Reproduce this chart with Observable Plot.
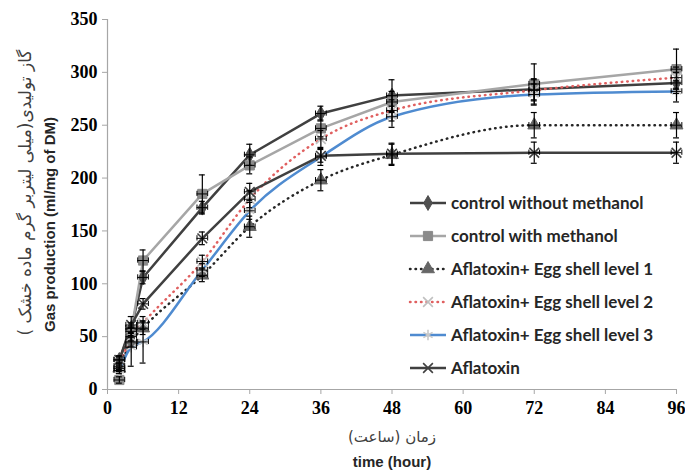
<!DOCTYPE html>
<html><head><meta charset="utf-8">
<script src="https://cdn.jsdelivr.net/npm/d3@7"></script>
<script src="https://cdn.jsdelivr.net/npm/@observablehq/plot@0.6"></script>
<style>
body{margin:0;background:#fff}
#wrap{position:relative;width:685px;height:470px}
#legend{position:absolute;left:408px;top:186px;font:bold 17px Lato, sans-serif;color:#262626}
.row{display:flex;align-items:center;height:33px;white-space:nowrap}
.row svg{margin-right:3px}
</style></head><body><div id="wrap"></div>
<script>
const hours = [2, 4, 6, 16, 24, 36, 48, 72, 96];
const xTicks = [0, 12, 24, 36, 48, 60, 72, 84, 96];
const yTicks = [0, 50, 100, 150, 200, 250, 300, 350];
const seriesNames = ["control without methanol", "control with methanol", "Aflatoxin+ Egg shell level 1", "Aflatoxin+ Egg shell level 2", "Aflatoxin+ Egg shell level 3", "Aflatoxin"];
const controlWithout = [28, 58, 106, 172, 222, 261, 278, 284, 290];
const controlWith    = [9, 55, 122, 185, 212, 247, 272, 289, 303];
const level1         = [20, 45, 58, 108, 154, 198, 222, 250, 250];
const level2         = [22, 50, 63, 121, 180, 237, 264, 283, 295];
const level3         = [18, 40, 45, 113, 169, 220, 258, 279, 282];
const aflatoxin      = [28, 61, 81, 143, 187, 221, 223, 224, 224];
const errWithout = [3, 5, 6, 6, 10, 7, 15, 10, 10];
const errWith    = [3, 4, 10, 18, 8, 8, 10, 19, 19];
const err1       = [3, 4, 6, 6, 10, 10, 10, 12, 12];
const err2       = [3, 4, 6, 6, 8, 8, 10, 10, 10];
const err3       = [3, 18, 20, 6, 8, 8, 10, 10, 10];
const errAfla    = [4, 8, 5, 6, 8, 6, 10, 10, 10];
const seriesValues = [controlWithout, controlWith, level1, level2, level3, aflatoxin];
const seriesErrors = [errWithout, errWith, err1, err2, err3, errAfla];

const styles = [
  {stroke:"#404040", width:2.5, dash:null, curve:"linear", symbol:"diamond", fill:"#505050", mstroke:"#505050", r:4.5},
  {stroke:"#a6a6a6", width:2.5, dash:null, curve:"linear", symbol:"square", fill:"#8a8a8a", mstroke:"#8a8a8a", r:5.2},
  {stroke:"#262626", width:2.5, dash:"0.5 5", curve:"monotone-x", symbol:"triangle", fill:"#666", mstroke:"#666", r:4.8},
  {stroke:"#e06060", width:2.5, dash:"0.5 5", curve:"monotone-x", symbol:"times", fill:"none", mstroke:"#c0c0c0", r:4.5},
  {stroke:"#4f8bd0", width:2.5, dash:null, curve:"monotone-x", symbol:"asterisk", fill:"none", mstroke:"#c8c8c8", r:5},
  {stroke:"#404040", width:2.5, dash:null, curve:"linear", symbol:"times", fill:"none", mstroke:"#404040", r:4.5}
];

const rows = seriesNames.flatMap((name, i) => hours.map((t, j) => ({series: name, t, v: seriesValues[i][j], e: seriesErrors[i][j]})));

const marks = [
  Plot.ruleY([0], {stroke:"#a6a6a6", strokeWidth:1.2}),
  Plot.ruleX([0], {stroke:"#a6a6a6", strokeWidth:1.2}),
  Plot.axisX({ticks: xTicks, tickSize: 5, tickPadding: 7, stroke:"#a6a6a6", fill:"#000", label:null, fontFamily:"Liberation Serif", fontWeight:"bold", fontSize:18}),
  Plot.axisY({ticks: yTicks, tickSize: 5, tickPadding: 5, stroke:"#a6a6a6", fill:"#000", label:null, fontFamily:"Liberation Serif", fontWeight:"bold", fontSize:18}),
];
seriesNames.forEach((name, i) => {
  const s = styles[i];
  const d = rows.filter(r => r.series === name);
  marks.push(Plot.line(d, {x:"t", y:"v", stroke:s.stroke, strokeWidth:s.width, strokeDasharray:s.dash, strokeLinecap:"round", curve:s.curve}));
});
seriesNames.forEach((name, i) => {
  const s = styles[i];
  const d = rows.filter(r => r.series === name);
  marks.push(Plot.dot(d, {x:"t", y:"v", symbol:s.symbol, r:s.r, fill:s.fill, stroke:s.mstroke, strokeWidth: s.fill === "none" ? 1.6 : 1}));
});
// error bars (y and small x)
marks.push(
  Plot.ruleX(rows, {x:"t", y1:d => d.v - d.e, y2:d => d.v + d.e, stroke:"#000", strokeWidth:1.2}),
  Plot.ruleY(rows, {y:d => d.v + d.e, x1:d => d.t - 0.5, x2:d => d.t + 0.5, stroke:"#000", strokeWidth:1.2}),
  Plot.ruleY(rows, {y:d => d.v - d.e, x1:d => d.t - 0.5, x2:d => d.t + 0.5, stroke:"#000", strokeWidth:1.2}),
  Plot.ruleY(rows, {y:"v", x1:d => d.t - 0.9, x2:d => d.t + 0.9, stroke:"#000", strokeWidth:1}),
  Plot.ruleX(rows, {x:d => d.t - 0.9, y1:d => d.v - 2.5, y2:d => d.v + 2.5, stroke:"#000", strokeWidth:1}),
  Plot.ruleX(rows, {x:d => d.t + 0.9, y1:d => d.v - 2.5, y2:d => d.v + 2.5, stroke:"#000", strokeWidth:1})
);
// axis titles
marks.push(
  Plot.text(["Gas production (ml/mg of DM)"], {frameAnchor:"left", dx:-57, dy:20, rotate:-90, textAnchor:"middle", lineAnchor:"middle", fontFamily:"Liberation Sans", fontWeight:"bold", fontSize:15, fill:"#262626"}),
  Plot.text(["گاز تولیدی(میلی لیتربر گرم ماده خشک )"], {frameAnchor:"left", dx:-82, dy:-12, rotate:-90, textAnchor:"middle", lineAnchor:"middle", fontFamily:"DejaVu Sans", fontWeight:"normal", fontSize:17, fill:"#404040"}),
  Plot.text(["زمان (ساعت)"], {frameAnchor:"bottom", dy:48, textAnchor:"middle", lineAnchor:"middle", fontFamily:"DejaVu Sans", fontWeight:"normal", fontSize:15, fill:"#404040"}),
  Plot.text(["time (hour)"], {frameAnchor:"bottom", dy:73, textAnchor:"middle", lineAnchor:"middle", fontFamily:"Liberation Sans", fontWeight:"bold", fontSize:15, fill:"#262626"})
);

const chart = Plot.plot({
  width: 685, height: 470,
  marginLeft: 107, marginRight: 9, marginTop: 19, marginBottom: 81,
  x: {domain:[0, 96]},
  y: {domain:[0, 350]},
  style: {background:"#fff", overflow:"visible"},
  marks
});
const wrap = document.getElementById("wrap");
wrap.appendChild(chart);

// legend
const legend = document.createElement("div");
legend.id = "legend";
const symMap = {diamond:d3.symbolDiamond, square:d3.symbolSquare, triangle:d3.symbolTriangle, times:d3.symbolTimes, asterisk:d3.symbolAsterisk};
seriesNames.forEach((name, i) => {
  const s = styles[i];
  const row = document.createElement("div");
  row.className = "row";
  const size = Math.PI * s.r * s.r;
  const path = d3.symbol(symMap[s.symbol], size)();
  row.innerHTML = `<svg width="40" height="16"><line x1="2" x2="38" y1="8" y2="8" stroke="${s.stroke}" stroke-width="${s.width}" ${s.dash ? `stroke-dasharray="${s.dash}" stroke-linecap="round"` : ""}/><path transform="translate(20,8)" d="${path}" fill="${s.fill}" stroke="${s.mstroke}" stroke-width="${s.fill === "none" ? 1.6 : 1}"/></svg><span>${name}</span>`;
  legend.appendChild(row);
});
wrap.appendChild(legend);
</script>
</body></html>
